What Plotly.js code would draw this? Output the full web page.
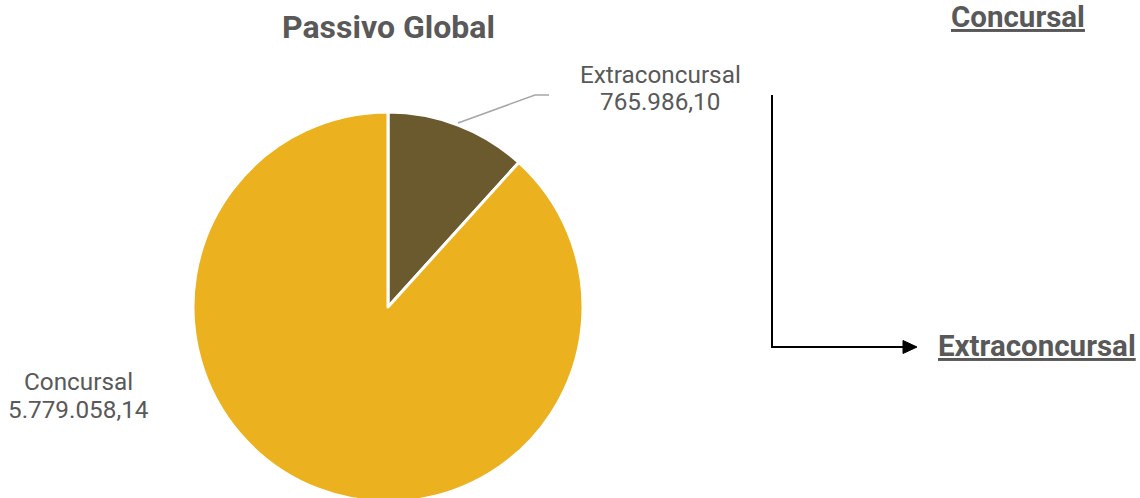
<!DOCTYPE html>
<html><head><meta charset="utf-8">
<script src="https://cdn.plot.ly/plotly-3.0.1.min.js"></script>
<style>html,body{margin:0;padding:0;overflow:hidden;background:#fff}#c{width:1140px;height:504px}</style>
</head><body><div id="c"></div>
<script>
const categories = ["Extraconcursal", "Concursal"];
const values = [765986.10, 5779058.14];
const valueLabels = ["765.986,10", "5.779.058,14"];
const colors = ["#6B5A2E", "#EBB11E"];
const chartTitle = "Passivo Global";
const flowLabels = ["Concursal", "Extraconcursal"];

const W = 1140, H = 504;
const px = x => x / W, py = y => (H - y) / H;
const gray = "#595959";

const data = [{
  type: "pie",
  labels: categories,
  values: values,
  sort: false,
  direction: "clockwise",
  rotation: 0,
  marker: {colors: colors, line: {color: "#ffffff", width: 3}},
  textinfo: "none",
  hoverinfo: "label+value",
  domain: {x: [px(193), px(583)], y: [py(502), py(112)]},
  showlegend: false
}];

function txt(t, x, y, size, extra) {
  return Object.assign({text: t, xref: "paper", yref: "paper", x: px(x), y: py(y),
    xanchor: "center", yanchor: "middle", showarrow: false,
    font: Object.assign({size: size, color: gray}, extra || {})});
}

const layout = {
  width: W, height: H,
  margin: {l: 0, r: 0, t: 0, b: 0},
  paper_bgcolor: "#ffffff",
  font: {family: "Roboto, sans-serif", color: gray},
  annotations: [
    txt("<b>" + chartTitle + "</b>", 388, 27, 32),
    txt(categories[0], 660, 74, 24.3),
    txt(valueLabels[0], 660, 102, 24.3),
    txt(categories[1], 79, 381, 24.3),
    txt(valueLabels[1], 79, 409, 24.3),
    txt("<b>" + flowLabels[0] + "</b>", 1018, 17, 29.5, {lineposition: "under"}),
    txt("<b>" + flowLabels[1] + "</b>", 1037, 346, 29.5, {lineposition: "under"})
  ],
  shapes: [
    {type: "path", xref: "paper", yref: "paper",
     path: `M ${px(458)} ${py(123)} L ${px(535)} ${py(95)} L ${px(549)} ${py(95)}`,
     line: {color: "#A6A6A6", width: 1.5}},
    {type: "path", xref: "paper", yref: "paper",
     path: `M ${px(772)} ${py(95)} L ${px(772)} ${py(347)} L ${px(904)} ${py(347)}`,
     line: {color: "#000000", width: 2}},
    {type: "path", xref: "paper", yref: "paper",
     path: `M ${px(903)} ${py(340.5)} L ${px(917)} ${py(347)} L ${px(903)} ${py(353.5)} Z`,
     fillcolor: "#000000", line: {color: "#000000", width: 1}}
  ]
};

Plotly.newPlot("c", data, layout, {displayModeBar: false, staticPlot: true});
</script></body></html>
